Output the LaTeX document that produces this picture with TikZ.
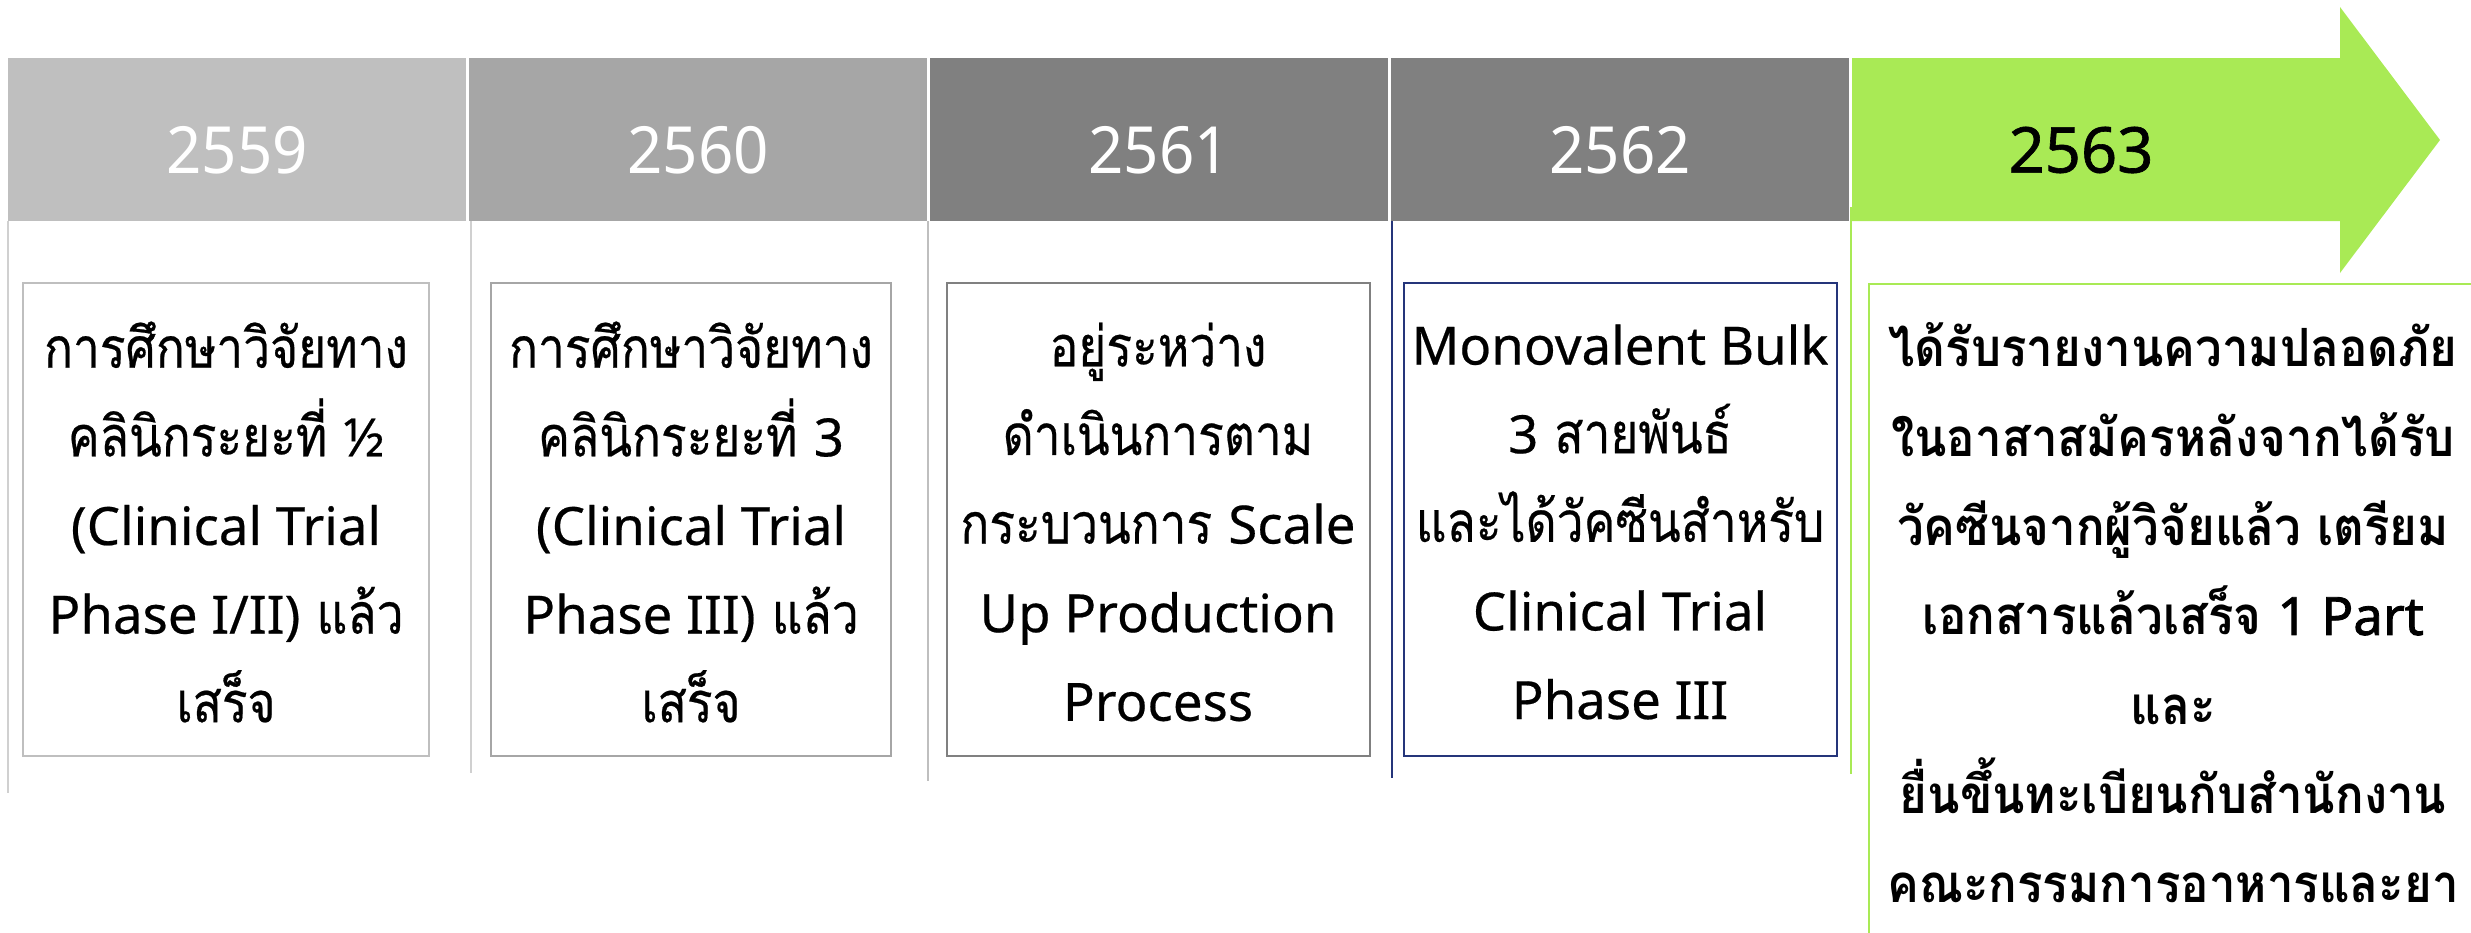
\documentclass[tikz,border=0pt]{standalone}
\usepackage{fontspec}
\newfontfamily\thaiN[Script=Thai,FakeStretch=0.85,FakeBold=0.4]{Loma}
\newfontfamily\thaiB[Script=Thai,FakeStretch=0.9]{Loma}
\newfontfamily\lat[FakeBold=0.4]{Noto Sans}
\newfontfamily\latPlain[FakeBold=1.6]{Noto Sans}
\newfontfamily\yearfont[FakeStretch=0.95]{Noto Sans}
\newfontfamily\yearfontB[FakeBold=1]{Noto Sans}
\newcommand\la[1]{{\lat\fontsize{15}{25.2}\selectfont #1}}
\newcommand\lb[1]{{\latPlain #1}}
\definecolor{gA}{HTML}{BFBFBF}
\definecolor{gB}{HTML}{A6A6A6}
\definecolor{gC}{HTML}{808080}
\definecolor{lineA}{HTML}{D0D0D0}
\definecolor{navy}{HTML}{25357A}
\definecolor{lgreen}{HTML}{A9EA55}
\tikzset{
  vline/.style={line width=0.45pt},
  infobox/.style={line width=0.7pt},
  yeartext/.style={text=white, inner sep=0pt, font=\yearfont\fontsize{18.5}{20}\selectfont},
  bodytext/.style={align=center, inner sep=0pt, font=\thaiN\fontsize{16}{25.2}\selectfont},
  greentext/.style={align=center, inner sep=0pt, font=\thaiB\bfseries\fontsize{15}{25.4}\selectfont},
}
\begin{document}
\begin{tikzpicture}[x=0.01cm,y=-0.01cm]
\useasboundingbox (0,0) rectangle (2471,933);
\clip (0,0) rectangle (2471,933);
% vertical guide lines
\draw[vline,draw=lineA] (8,221) -- (8,793);
\draw[vline,draw=lineA] (471,221) -- (471,773);
\draw[vline,draw=gA] (928,221) -- (928,781);
\draw[vline,draw=navy] (1392,212) -- (1392,778);
\draw[vline,draw=lgreen] (1851,207) -- (1851,774);
% header bars
\fill[gA] (8,58) rectangle (466,221);
\fill[gB] (469,58) rectangle (927,221);
\fill[gC] (930,58) rectangle (1388,221);
\fill[gC] (1391,58) rectangle (1849,221);
\fill[lgreen] (1852,58) -- (2340,58) -- (2340,7) -- (2440,140) -- (2340,273) -- (2340,221) -- (1852,221) -- cycle;
% years
\node[yeartext] (y2559) at (237,150) {2559};
\node[yeartext] (y2560) at (698,150) {2560};
\node[yeartext] (y2561) at (1159,150) {2561};
\node[yeartext] (y2562) at (1620,150) {2562};
\node[yeartext,text=black,font=\yearfontB\fontsize{18}{20}\selectfont] (y2563) at (2081,150) {2563};
% content boxes
\draw[infobox,draw=gA] (23,283) rectangle (429,756);
\draw[infobox,draw=gB] (491,283) rectangle (891,756);
\draw[infobox,draw=gC] (947,283) rectangle (1370,756);
\draw[infobox,draw=navy] (1404,283) rectangle (1837,756);
\draw[infobox,draw=lgreen] (1869,1000) -- (1869,284) -- (2500,284);
% texts
\node[bodytext] (t2559) at (226,522) {การศึกษาวิจัยทาง\\คลินิกระยะที่ \la{½}\\\la{(Clinical Trial}\\\la{Phase I/II)} แล้ว\\เสร็จ};
\node[bodytext] (t2560) at (691,522) {การศึกษาวิจัยทาง\\คลินิกระยะที่ \la{3}\\\la{(Clinical Trial}\\\la{Phase III)} แล้ว\\เสร็จ};
\node[bodytext] (t2561) at (1158,522) {อยู่ระหว่าง\\ดำเนินการตาม\\กระบวนการ \la{Scale}\\\la{Up Production}\\\la{Process}};
\node[bodytext] (t2562) at (1620,522) {\la{Monovalent Bulk}\\\la{3} สายพันธ์\\และได้วัคซีนสำหรับ\\\la{Clinical Trial}\\\la{Phase III}};
\node[greentext] (t2563) at (2173,613) {ได้รับรายงานความปลอดภัย\\ในอาสาสมัครหลังจากได้รับ\\วัคซีนจากผู้วิจัยแล้ว เตรียม\\เอกสารแล้วเสร็จ \lb{1 Part}\\และ\\ยื่นขึ้นทะเบียนกับสำนักงาน\\คณะกรรมการอาหารและยา};
\end{tikzpicture}
\end{document}
